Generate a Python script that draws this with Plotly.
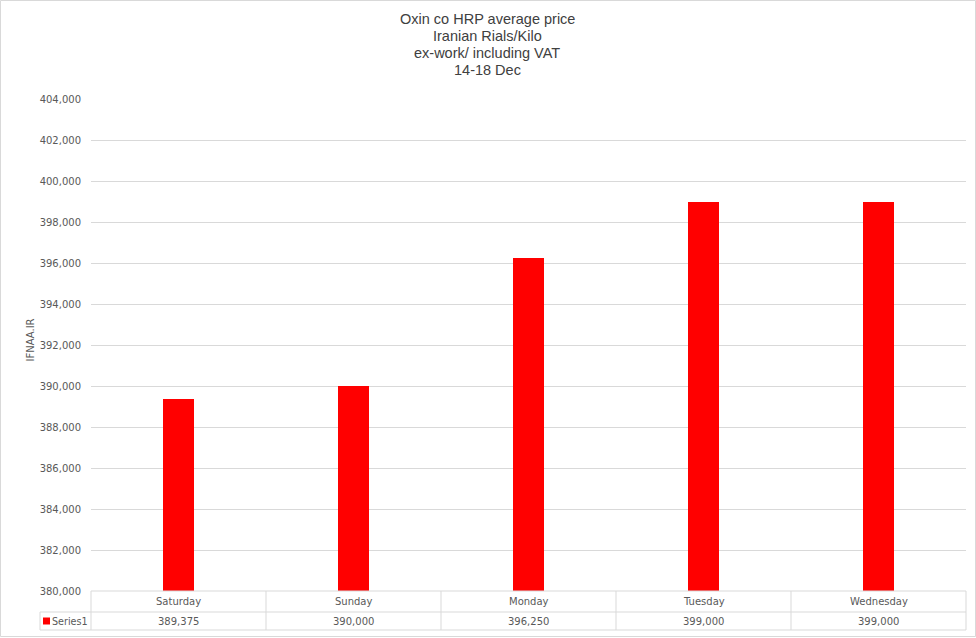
import plotly.graph_objects as go

title_lines = ["Oxin co HRP average price", "Iranian Rials/Kilo", "ex-work/ including VAT", "14-18 Dec"]
categories = ["Saturday", "Sunday", "Monday", "Tuesday", "Wednesday"]
values = [389375, 390000, 396250, 399000, 399000]
series_name = "Series1"
y_title = "IFNAA.IR"
y_ticks = list(range(380000, 404001, 2000))

W, H = 976, 638
L, R, T, B = 91, 10, 99, 47
pw, ph = W - L - R, H - T - B

def px(x):
    return (x - L) / pw

def py(y):
    return (H - B - y) / ph

grid = "#d9d9d9"
txt = "#595959"

fig = go.Figure()
fig.add_trace(go.Bar(x=list(range(len(categories))), y=values, width=0.18,
                     marker=dict(color="#ff0000", line=dict(width=0)), name=series_name,
                     showlegend=False, hoverinfo="skip"))

shapes = []
shapes.append(dict(type="line", xref="paper", yref="paper", x0=0, x1=1, y0=0, y1=0, line=dict(color=grid, width=1)))
for yy in (612, 630):
    shapes.append(dict(type="line", xref="paper", yref="paper", x0=px(40), x1=1, y0=py(yy), y1=py(yy), line=dict(color=grid, width=1)))
shapes.append(dict(type="line", xref="paper", yref="paper", x0=px(40), x1=px(40), y0=py(612), y1=py(630), line=dict(color=grid, width=1)))
for i in range(len(categories) + 1):
    xx = i / len(categories)
    shapes.append(dict(type="line", xref="paper", yref="paper", x0=xx, x1=xx, y0=0, y1=py(630), line=dict(color=grid, width=1)))
shapes.append(dict(type="rect", xref="paper", yref="paper", x0=px(43), x1=px(50), y0=py(624.5), y1=py(617.5),
                   fillcolor="#ff0000", line=dict(width=0)))
shapes.append(dict(type="rect", xref="paper", yref="paper", x0=px(0.5), x1=px(975.5), y0=py(636.5), y1=py(0.5),
                   line=dict(color="#d9d9d9", width=1)))

cell_font = dict(family="DejaVu Sans", size=10, color=txt)
annotations = []
for i, (c, v) in enumerate(zip(categories, values)):
    annotations.append(dict(x=i, y=py(601.5), xref="x", yref="paper", text=c, showarrow=False,
                            xanchor="center", yanchor="middle", font=cell_font))
    annotations.append(dict(x=i, y=py(621), xref="x", yref="paper", text=f"{v:,}", showarrow=False,
                            xanchor="center", yanchor="middle", font=cell_font))
annotations.append(dict(x=px(50), y=py(621), xref="paper", yref="paper", text=series_name, showarrow=False,
                        xanchor="left", yanchor="middle", font=dict(family="DejaVu Sans", size=9.6, color=txt)))
annotations.append(dict(x=px(29.5), y=py(340), xref="paper", yref="paper", text=y_title, showarrow=False,
                        xanchor="center", yanchor="middle", textangle=-90, font=cell_font))
for k, line in enumerate(title_lines):
    annotations.append(dict(x=px(487), y=py(19 + 17 * k), xref="paper", yref="paper",
                            xanchor="center", yanchor="middle", text=line, showarrow=False,
                            font=dict(family="Liberation Sans", size=14.5, color="#404040")))

fig.update_layout(
    width=W, height=H,
    margin=dict(l=L, r=R, t=T, b=B),
    paper_bgcolor="white", plot_bgcolor="white",
    shapes=shapes, annotations=annotations,
    bargap=0,
    xaxis=dict(range=[-0.5, len(categories) - 0.5], showticklabels=False, showgrid=False,
               zeroline=False, showline=False, fixedrange=True),
    yaxis=dict(range=[380000, 404000], tickvals=y_ticks, tickformat=",", showgrid=True, gridcolor=grid,
               gridwidth=1, zeroline=False, showline=False, ticks="", ticklen=0, fixedrange=True,
               ticklabelstandoff=9,
               tickfont=dict(family="DejaVu Sans", size=10, color=txt)),
    showlegend=False,
)

fig.write_html("out.html", config={"displayModeBar": False},
               post_script="document.body.style.margin='0';")
